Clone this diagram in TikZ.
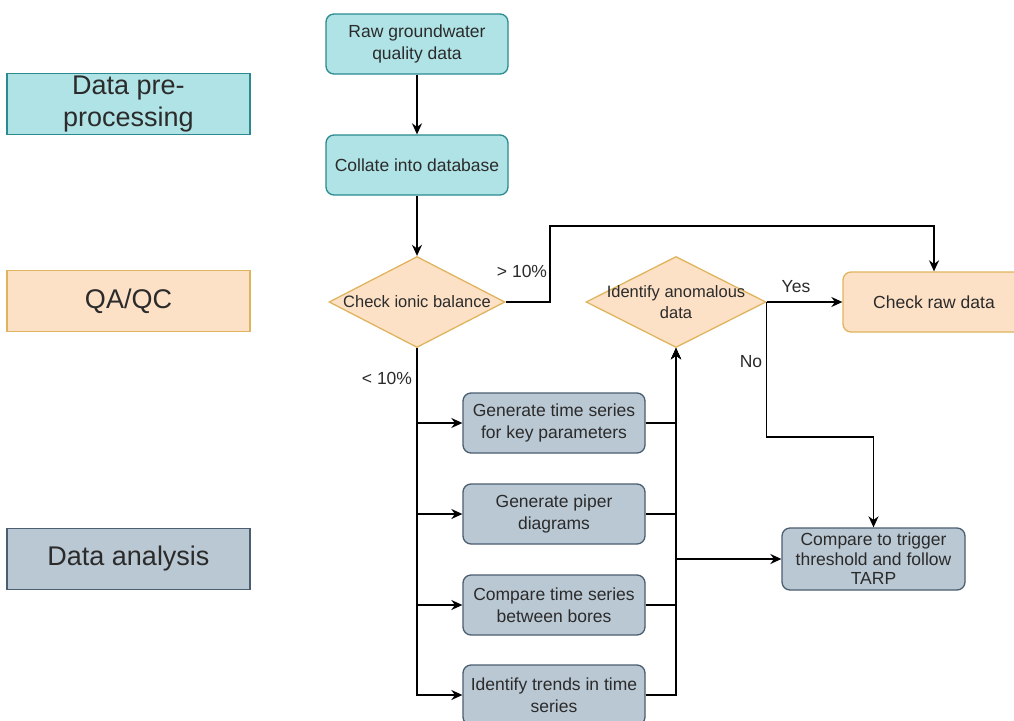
\documentclass[tikz,border=0pt]{standalone}
\usepackage{fontspec}
\setmainfont{Liberation Sans}
\usetikzlibrary{shapes.geometric,arrows.meta}

\definecolor{tealfill}{HTML}{B0E3E6}
\definecolor{tealline}{HTML}{2A8A90}
\definecolor{peachfill}{HTML}{FCE1C6}
\definecolor{peachline}{HTML}{E0B45E}
\definecolor{greyfill}{HTML}{BAC8D3}
\definecolor{greyline}{HTML}{4A5E70}
\definecolor{txt}{HTML}{2B2B2B}

\begin{document}
\begin{tikzpicture}[x=1pt,y=-1pt,
  every node/.style={text=txt,font=\fontsize{17.5}{21.5}\selectfont,align=center},
  stage/.style={draw,line width=1.2pt,minimum width=243pt,minimum height=61pt,inner sep=0pt,font=\fontsize{27}{32}\selectfont},
  box/.style={draw,line width=1.3pt,rounded corners=8pt,minimum width=182pt,minimum height=60pt,inner sep=1pt},
  decision/.style={diamond,draw=peachline,fill=peachfill,line width=1.3pt,inner sep=0pt,minimum height=91pt},
  dtext/.style={font=\fontsize{16.5}{21}\selectfont},
  flow/.style={line width=1.5pt,-{Stealth[length=11pt,width=10pt]}}]
  \useasboundingbox[fill=white] (0,0) rectangle (1014,720);

  % stages on the left
  \node[stage,draw=tealline,fill=tealfill] (pre) at (128.5,104) {Data pre-\\processing};
  \node[stage,draw=peachline,fill=peachfill] (qa) at (128.5,301) {QA/QC};
  \node[stage,draw=greyline,fill=greyfill] (ana) at (128.5,559) {Data analysis};

  % pre-processing
  \node[box,draw=tealline,fill=tealfill] (raw) at (417,44) {Raw groundwater\\quality data};
  \node[box,draw=tealline,fill=tealfill] (collate) at (417,165) {Collate into database};

  % QA/QC
  \node[decision,minimum width=176pt,label={[dtext]center:Check ionic balance}] (ionic) at (417,302) {};
  \node[decision,minimum width=180pt,label={[dtext]center:Identify anomalous\\data}] (anom) at (676,302) {};
  \node[box,draw=peachline,fill=peachfill] (rawcheck) at (934,302) {Check raw data};

  % analysis
  \node[box,draw=greyline,fill=greyfill] (gen1) at (554,423) {Generate time series\\for key parameters};
  \node[box,draw=greyline,fill=greyfill] (gen2) at (554,514) {Generate piper\\diagrams};
  \node[box,draw=greyline,fill=greyfill] (gen3) at (554,605) {Compare time series\\between bores};
  \node[box,draw=greyline,fill=greyfill] (gen4) at (554,695) {Identify trends in time\\series};
  \node[box,draw=greyline,fill=greyfill,minimum width=183pt,minimum height=62pt,font=\fontsize{17.5}{19.5}\selectfont] (compare) at (873.5,559) {Compare to trigger\\threshold and follow\\TARP};

  \draw[flow] (raw) -- (collate);
  \draw[flow] (collate) -- (ionic.north);
  \draw[flow] (ionic.east) -| (550,226) -| (rawcheck.north);
  \node (gt) at (522,271) {> 10\%};
  \foreach \n in {gen1,gen2,gen3,gen4}
    \draw[flow] (ionic.south) |- (\n.west);
  \node (lt) at (387,378) {< 10\%};
  \foreach \n in {gen1,gen2,gen3,gen4}
    \draw[flow] (\n.east) -| (anom.south);
  \draw[flow] (anom.south |- compare.west) -- (compare.west);
  \draw[flow] (anom.east) -- (rawcheck.west);
  \node (yes) at (796,287) {Yes};
  \draw[flow] (anom.east) -- ++(0,135) -| (compare.north);
  \node (no) at (751,362) {No};
\end{tikzpicture}
\end{document}
